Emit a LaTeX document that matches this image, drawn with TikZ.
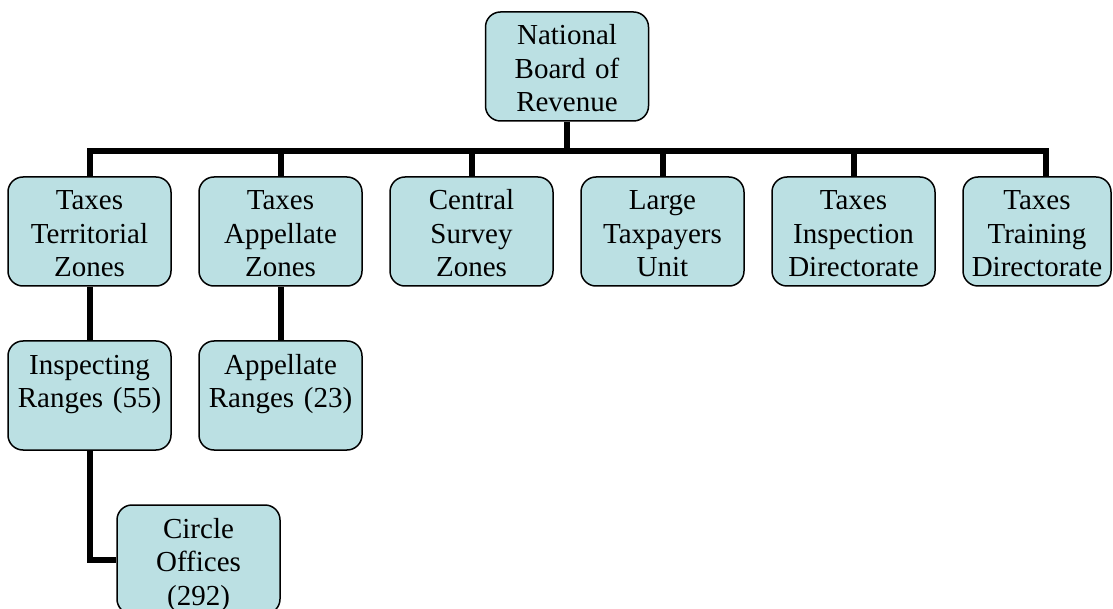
\documentclass[tikz,border=0pt]{standalone}
\usepackage{fontspec}
\setmainfont{Liberation Serif}
\definecolor{boxfill}{RGB}{187,224,227}
\begin{document}
\begin{tikzpicture}[x=1pt,y=-1pt,
  orgbox/.style={draw=black, line width=1.5pt, fill=boxfill, rounded corners=15pt,
    minimum width=163pt, minimum height=109pt, inner sep=0pt, text width=160pt,
    align=center, font=\fontsize{29}{33.5}\selectfont,
    text height=23pt, text depth=66pt},
  conn/.style={draw=black, line width=6pt}]
\useasboundingbox (0,0) rectangle (1113,609);
\node[orgbox] (nbr) at (567,66.5) {National\\Board of\\Revenue};
\node[orgbox] (t1) at (89.5,231.5) {Taxes\\Territorial\\Zones};
\node[orgbox] (t2) at (280.5,231.5) {Taxes\\Appellate\\Zones};
\node[orgbox] (t3) at (471.5,231.5) {Central\\Survey\\Zones};
\node[orgbox] (t4) at (662.5,231.5) {Large\\Taxpayers\\Unit};
\node[orgbox, minimum width=148pt, text width=146pt] (t6) at (1037,231.5) {Taxes\\Training\\Directorate};
\node[orgbox] (t5) at (853.5,231.5) {Taxes\\Inspection\\Directorate};
\node[orgbox] (r1) at (89.5,395.5) {Inspecting\\Ranges (55)};
\node[orgbox] (r2) at (280.5,395.5) {Appellate\\Ranges (23)};
\node[orgbox] (co) at (198.5,559.5) {Circle\\Offices\\(292)};
\coordinate (b6) at (1046,151);
\draw[conn] (t1.north) |- (b6) -- (b6 |- t6.north);
\draw[conn] (nbr.south) -- (nbr.south |- b6);
\draw[conn] (t2.north) -- (t2.north |- b6);
\draw[conn] (t3.north) -- (t3.north |- b6);
\draw[conn] (t4.north) -- (t4.north |- b6);
\draw[conn] (t5.north) -- (t5.north |- b6);
\draw[conn] (t1.south) -- (r1.north);
\draw[conn] (t2.south) -- (r2.north);
\draw[conn] (r1.south) |- (co.west);
\end{tikzpicture}
\end{document}
